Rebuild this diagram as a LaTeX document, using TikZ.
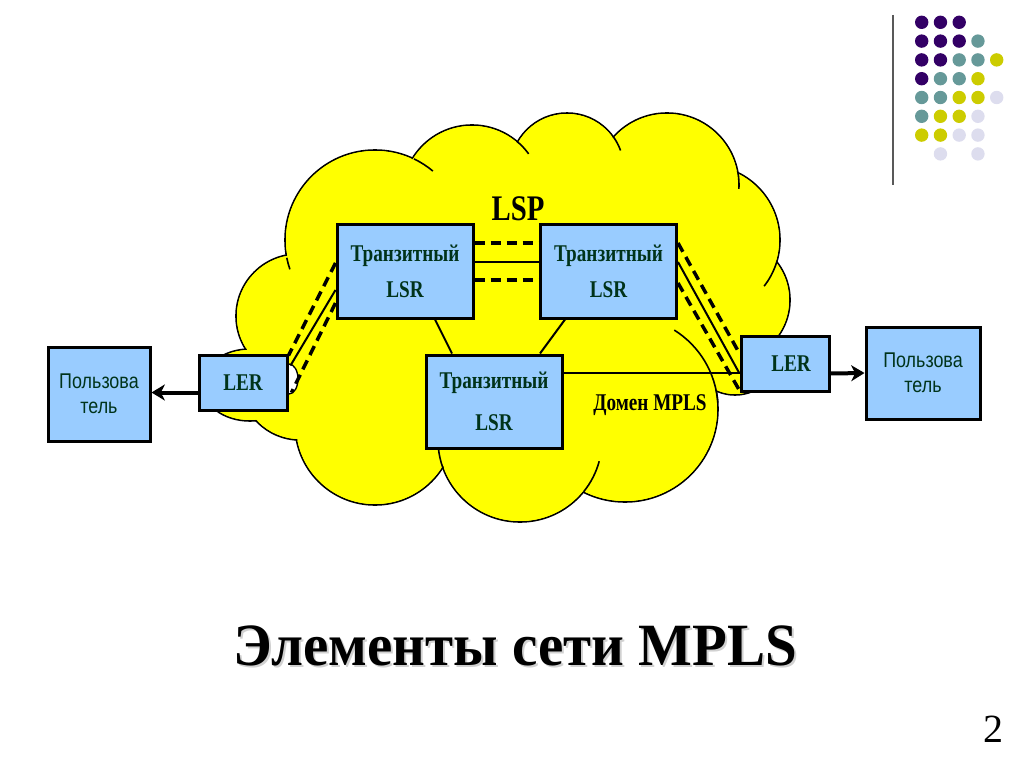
\documentclass[tikz,border=0pt]{standalone}
\usepackage{fontspec}
\setmainfont{Liberation Serif}
\newfontfamily\condserif{Liberation Serif}[FakeStretch=0.8]
\newfontfamily\condsans{Liberation Sans}[FakeStretch=0.84]
\newfontfamily\titleserif{Liberation Serif}[FakeStretch=0.95]
\usetikzlibrary{arrows.meta,calc}
\definecolor{cloudC}{RGB}{255,255,0}
\definecolor{boxC}{RGB}{153,204,255}
\definecolor{txtC}{RGB}{0,51,26}
\definecolor{dotP}{RGB}{51,0,102}
\definecolor{dotT}{RGB}{102,153,153}
\definecolor{dotY}{RGB}{204,204,0}
\definecolor{dotL}{RGB}{221,221,238}

\begin{document}
\begin{tikzpicture}[
  cloudedge/.style={draw=black, line width=1.2pt},
  netbox/.style={draw=black, line width=2.25pt, fill=boxC, inner sep=0pt, align=center, text=txtC},
  lsrbox/.style={netbox, minimum width=102pt, minimum height=70.5pt, font=\condserif\bfseries\fontsize{18}{21}\selectfont},
  lerbox/.style={netbox, minimum width=66pt, minimum height=41.25pt, font=\condserif\bfseries\fontsize{18}{21}\selectfont},
  userbox/.style={netbox, font=\condsans\fontsize{16}{19}\selectfont},
  link/.style={line width=1.5pt},
  lsp/.style={line width=2.6pt, dash pattern=on 7.5pt off 4.5pt},
  feed/.style={line width=3pt, -{Stealth[length=10pt, width=12pt, inset=3pt]}},
  tagtext/.style={font=\condserif\bfseries, anchor=base},
  x=0.75pt, y=-0.75pt  % slide pixel scale (1024x767), y runs downwards
]
\useasboundingbox (0,0) rectangle (1024,767);

% ---------- cloud: MPLS domain ----------
\def\cloudlist{298/316/62, 375/240/90, 472/195/70, 567/170/57, 667/185/72, 705/240/75,
  728/300/62, 735/350/45, 625/409/93, 520/440/82, 375/425/80, 300/380/60}
\foreach \cx/\cy/\r in \cloudlist
  \filldraw[cloudC, cloudedge] (\cx,\cy) circle[radius=\r];
\filldraw[cloudC, cloudedge] (250,385) ellipse[x radius=48, y radius=36];
\foreach \cx/\cy/\r in \cloudlist
  \fill[cloudC] (\cx,\cy) circle[radius=\r-1];
\fill[cloudC] (250,385) ellipse[x radius=47, y radius=35];
\fill[cloudC] (298,316) -- (375,240) -- (472,195) -- (567,170) -- (667,185) -- (705,240)
  -- (728,300) -- (735,350) -- (625,409) -- (520,440) -- (375,425) -- (300,380) -- cycle;
% inner hooks of the bumps
\draw[cloudedge] (375,240) ++(168.6:90) arc[start angle=168.6, end angle=161, radius=90];
\draw[cloudedge] (375,240) ++(-64.3:90) arc[start angle=-64.3, end angle=-50, radius=90];
\draw[cloudedge] (472,195) ++(-49.6:70) arc[start angle=-49.6, end angle=-36, radius=70];
\draw[cloudedge] (567,170) ++(-35.4:57) arc[start angle=-35.4, end angle=-20, radius=57];
\draw[cloudedge] (667,185) ++(-9.6:72) arc[start angle=-9.6, end angle=3, radius=72];
\draw[cloudedge] (705,240) ++(16.6:75) arc[start angle=16.6, end angle=38, radius=75];
\draw[cloudedge] (625,409) ++(-58:93) arc[start angle=-58, end angle=-4, radius=93];
\draw[cloudedge] (520,440) ++(39:82) arc[start angle=39, end angle=15, radius=82];
\draw[cloudedge] (520,440) ++(160:82) arc[start angle=160, end angle=175, radius=82];
\filldraw[fill=white, draw=black, line width=1pt] (289,379) ellipse[x radius=9, y radius=15];

% ---------- routers and users ----------
\node[userbox, minimum width=76.5pt, minimum height=70.5pt] (userL) at (99,394) {Пользова\\тель};
\node[lerbox] (lerL) at (243,382.5) {LER};
\node[lsrbox] (lsrA) at (405,271) {Транзитный\\[6pt]LSR};
\node[lsrbox] (lsrB) at (608.5,271) {Транзитный\\[6pt]LSR};
\node[lsrbox, minimum height=69.75pt] (lsrC) at (494,401.5) {Транзитный\\[11pt]LSR};
\node[lerbox] (lerR) at (785,363.5) {\hspace*{9pt}LER};
\node[userbox, minimum width=85.5pt, minimum height=69pt] (userR) at (923,373) {Пользова\\тель};

% ---------- links ----------
\draw[lsp] ($(lsrA.east)+(0,-28)$) -- ($(lsrB.west)+(0,-28)$);
\draw[link] ($(lsrA.east)+(0,-9)$) -- ($(lsrB.west)+(0,-9)$);
\draw[lsp] ($(lsrA.east)+(0,9)$) -- ($(lsrB.west)+(0,9)$);

\draw[lsp] ($(lsrA.west)+(0,-8)$) -- ($(lerL.east)+(0,-27)$);
\draw[link] ($(lsrA.west)+(0,19)$) -- ($(lerL.east)+(2,-17)$);
\draw[lsp] ($(lsrA.west)+(0,32)$) -- ($(lerL.east)+(3,10)$);

\draw[lsp] ($(lsrB.east)+(0,-28)$) -- ($(lerR.west)+(0,-10)$);
\draw[link] ($(lsrB.east)+(0,-9)$) -- ($(lerR.west)+(0,10)$);
\draw[lsp] ($(lsrB.east)+(0,12)$) -- ($(lerR.west)+(0,27)$);

\draw[link] ($(lsrA.south)+(30,0)$) -- ($(lsrC.north)+(-42,0)$);
\draw[link] ($(lsrB.south)+(-43.5,0)$) -- ($(lsrC.north)+(46,0)$);
\draw[link] ($(lsrC.east)+(0,-28.5)$) -- ($(lerR.west)+(0,9.5)$);

\draw[feed] ($(lerL.west)+(0,10)$) -- ($(userL.east)+(0,-1.5)$);
\draw[feed] ($(lerR.east)+(0,10)$) -- (userR.west);

% ---------- labels ----------
\node[tagtext, font=\condserif\bfseries\fontsize{27}{30}\selectfont] (lspTag) at (518,220) {LSP};
\node[tagtext, font=\condserif\bfseries\fontsize{18}{21}\selectfont] (domainTag) at (650,410) {Домен MPLS};

\node[anchor=base, text=black!18, font=\titleserif\bfseries\fontsize{45}{50}\selectfont] (titleShade) at (517,667) {Элементы сети MPLS};
\node[anchor=base, font=\titleserif\bfseries\fontsize{45}{50}\selectfont] (title) at (515,665) {Элементы сети MPLS};
\node[anchor=base, font=\fontsize{30}{32}\selectfont] (pageNo) at (993,742) {2};

% ---------- corner decoration ----------
\draw[line width=1.5pt, draw=black!65] (893,15) -- (893,185);
\foreach \c/\r/\col in {0/0/dotP, 1/0/dotP, 2/0/dotP,
    0/1/dotP, 1/1/dotP, 2/1/dotP, 3/1/dotT,
    0/2/dotP, 1/2/dotP, 2/2/dotT, 3/2/dotT, 4/2/dotY,
    0/3/dotP, 1/3/dotT, 2/3/dotT, 3/3/dotY,
    0/4/dotT, 1/4/dotT, 2/4/dotY, 3/4/dotY, 4/4/dotL,
    0/5/dotT, 1/5/dotY, 2/5/dotY, 3/5/dotL,
    0/6/dotY, 1/6/dotY, 2/6/dotL, 3/6/dotL,
    1/7/dotL, 3/7/dotL}
  \fill[\col] (921.7+18.75*\c, 22.3+18.8*\r) circle[radius=6.7];

\end{tikzpicture}
\end{document}
